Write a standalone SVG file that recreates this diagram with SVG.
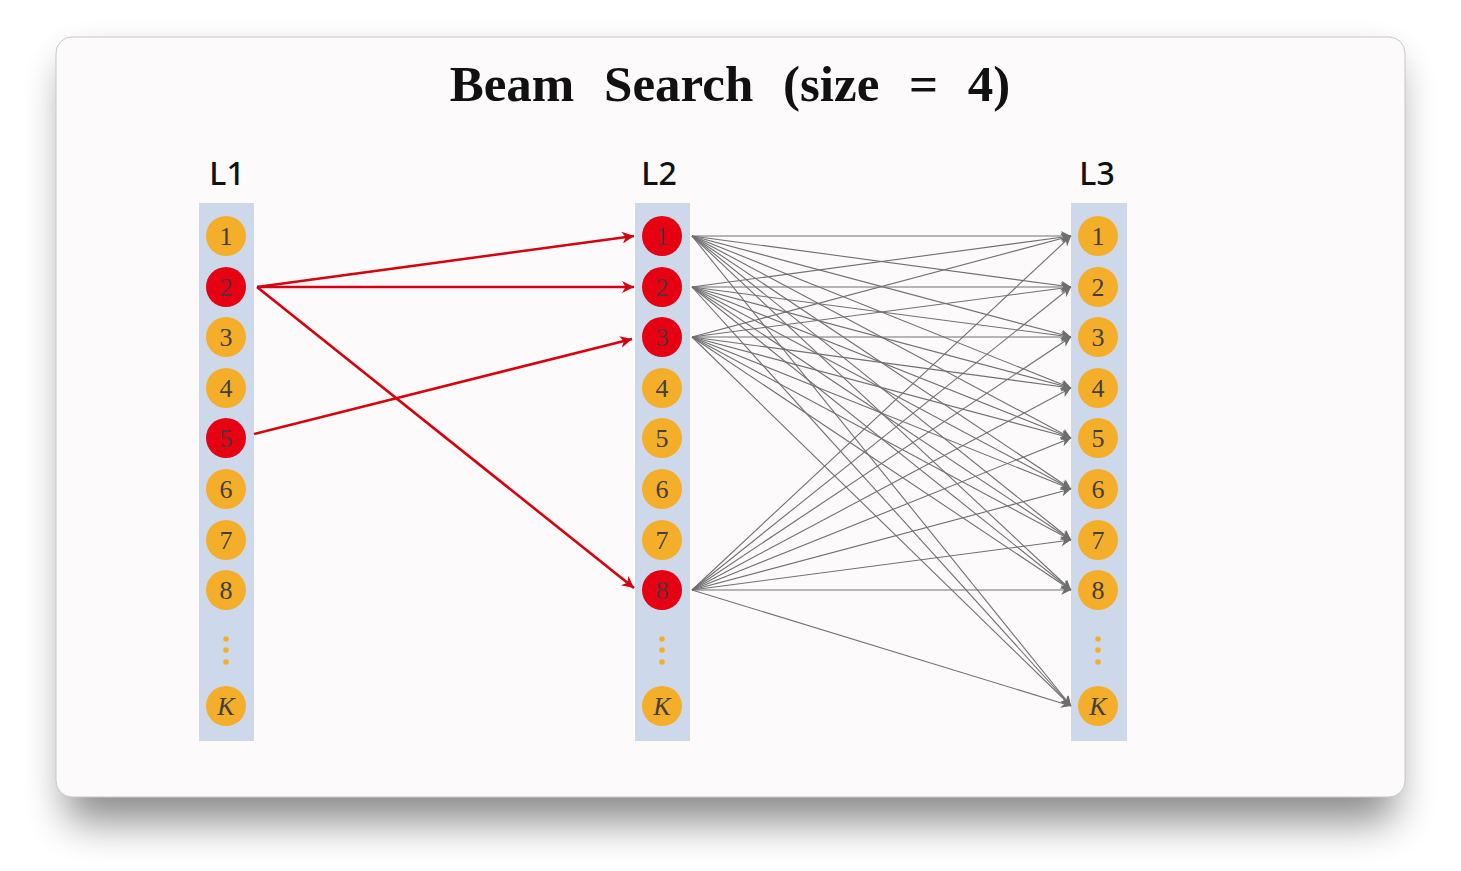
<svg xmlns="http://www.w3.org/2000/svg" width="1461" height="871" viewBox="0 0 1461 871">
<defs>
<filter id="sh" x="-10%" y="-10%" width="120%" height="135%">
<feGaussianBlur stdDeviation="20"/>
</filter>
<marker id="ag" viewBox="0 0 10 10" refX="10" refY="5" markerWidth="10" markerHeight="10" markerUnits="userSpaceOnUse" orient="auto">
<path d="M0,0 L10,5 L0,10 L3,5 Z" fill="#6e6e6e"/>
</marker>
<marker id="ar" viewBox="0 0 10 10" refX="10" refY="5" markerWidth="12" markerHeight="12" markerUnits="userSpaceOnUse" orient="auto">
<path d="M0,0 L10,5 L0,10 L3,5 Z" fill="#d7000f"/>
</marker>
</defs>
<style>
.col{fill:#cdd8ea}
.o{fill:#f5ae2a}
.r{fill:#e60012}
.n{font-family:"Liberation Serif",serif;font-size:26px;fill:#404040;text-anchor:middle}
.nr{fill:#5a2e3a}
.lab{font-family:"Noto Sans","Open Sans",sans-serif;font-size:32px;font-weight:500;fill:#111;text-anchor:middle}
.g{stroke:#707070;stroke-width:1.1;fill:none;marker-end:url(#ag)}
.re{stroke:#d7000f;stroke-width:2.6;fill:none;marker-end:url(#ar)}
.dot{fill:#f5ae2a}
</style>
<rect width="1461" height="871" fill="#ffffff"/>
<rect x="66" y="62" width="1329" height="760" rx="16" fill="#000" opacity="0.45" filter="url(#sh)"/>
<rect x="56" y="37" width="1349" height="760" rx="16" fill="#fcfafb" stroke="#c8c8c8" stroke-width="1"/>
<text x="730" y="101" font-family="Liberation Serif, serif" font-weight="bold" font-size="51" text-anchor="middle" fill="#111" word-spacing="17">Beam Search (size = 4)</text>
<g id="labels">
<text class="lab" x="227" y="185">L1</text>
<text class="lab" x="659" y="185">L2</text>
<text class="lab" x="1097" y="185">L3</text>
</g>
<g id="col1">
<rect class="col" x="199" y="203" width="55" height="538"/>
<g id="l1n1"><circle class="o" cx="226" cy="236" r="20"/><text class="n" x="226" y="245">1</text></g>
<g id="l1n2"><circle class="r" cx="226" cy="287" r="20"/><text class="n nr" x="226" y="296">2</text></g>
<g id="l1n3"><circle class="o" cx="226" cy="337" r="20"/><text class="n" x="226" y="346">3</text></g>
<g id="l1n4"><circle class="o" cx="226" cy="388" r="20"/><text class="n" x="226" y="397">4</text></g>
<g id="l1n5"><circle class="r" cx="226" cy="438" r="20"/><text class="n nr" x="226" y="447">5</text></g>
<g id="l1n6"><circle class="o" cx="226" cy="489" r="20"/><text class="n" x="226" y="498">6</text></g>
<g id="l1n7"><circle class="o" cx="226" cy="540" r="20"/><text class="n" x="226" y="549">7</text></g>
<g id="l1n8"><circle class="o" cx="226" cy="590" r="20"/><text class="n" x="226" y="599">8</text></g>
<circle class="dot" cx="226" cy="639" r="2.8"/><circle class="dot" cx="226" cy="650" r="2.8"/><circle class="dot" cx="226" cy="662" r="2.8"/>
<g id="l1nK"><circle class="o" cx="226" cy="706" r="20"/><text class="n" x="226" y="715" font-style="italic">K</text></g>
</g>
<g id="col2">
<rect class="col" x="635" y="203" width="55" height="538"/>
<g id="l2n1"><circle class="r" cx="662" cy="236" r="20"/><text class="n nr" x="662" y="245">1</text></g>
<g id="l2n2"><circle class="r" cx="662" cy="287" r="20"/><text class="n nr" x="662" y="296">2</text></g>
<g id="l2n3"><circle class="r" cx="662" cy="337" r="20"/><text class="n nr" x="662" y="346">3</text></g>
<g id="l2n4"><circle class="o" cx="662" cy="388" r="20"/><text class="n" x="662" y="397">4</text></g>
<g id="l2n5"><circle class="o" cx="662" cy="438" r="20"/><text class="n" x="662" y="447">5</text></g>
<g id="l2n6"><circle class="o" cx="662" cy="489" r="20"/><text class="n" x="662" y="498">6</text></g>
<g id="l2n7"><circle class="o" cx="662" cy="540" r="20"/><text class="n" x="662" y="549">7</text></g>
<g id="l2n8"><circle class="r" cx="662" cy="590" r="20"/><text class="n nr" x="662" y="599">8</text></g>
<circle class="dot" cx="662" cy="639" r="2.8"/><circle class="dot" cx="662" cy="650" r="2.8"/><circle class="dot" cx="662" cy="662" r="2.8"/>
<g id="l2nK"><circle class="o" cx="662" cy="706" r="20"/><text class="n" x="662" y="715" font-style="italic">K</text></g>
</g>
<g id="col3">
<rect class="col" x="1071" y="203" width="56" height="538"/>
<g id="l3n1"><circle class="o" cx="1098" cy="236" r="20"/><text class="n" x="1098" y="245">1</text></g>
<g id="l3n2"><circle class="o" cx="1098" cy="287" r="20"/><text class="n" x="1098" y="296">2</text></g>
<g id="l3n3"><circle class="o" cx="1098" cy="337" r="20"/><text class="n" x="1098" y="346">3</text></g>
<g id="l3n4"><circle class="o" cx="1098" cy="388" r="20"/><text class="n" x="1098" y="397">4</text></g>
<g id="l3n5"><circle class="o" cx="1098" cy="438" r="20"/><text class="n" x="1098" y="447">5</text></g>
<g id="l3n6"><circle class="o" cx="1098" cy="489" r="20"/><text class="n" x="1098" y="498">6</text></g>
<g id="l3n7"><circle class="o" cx="1098" cy="540" r="20"/><text class="n" x="1098" y="549">7</text></g>
<g id="l3n8"><circle class="o" cx="1098" cy="590" r="20"/><text class="n" x="1098" y="599">8</text></g>
<circle class="dot" cx="1098" cy="639" r="2.8"/><circle class="dot" cx="1098" cy="650" r="2.8"/><circle class="dot" cx="1098" cy="662" r="2.8"/>
<g id="l3nK"><circle class="o" cx="1098" cy="706" r="20"/><text class="n" x="1098" y="715" font-style="italic">K</text></g>
</g>
<g id="connectors">
<line class="re" x1="257" y1="287" x2="634" y2="236"/>
<line class="re" x1="257" y1="287" x2="634" y2="287"/>
<line class="re" x1="257" y1="287" x2="634" y2="588"/>
<line class="re" x1="254" y1="434" x2="632" y2="339"/>
<line class="g" x1="692" y1="236" x2="1071" y2="236"/>
<line class="g" x1="692" y1="236" x2="1071" y2="287"/>
<line class="g" x1="692" y1="236" x2="1071" y2="337"/>
<line class="g" x1="692" y1="236" x2="1071" y2="388"/>
<line class="g" x1="692" y1="236" x2="1071" y2="438"/>
<line class="g" x1="692" y1="236" x2="1071" y2="489"/>
<line class="g" x1="692" y1="236" x2="1071" y2="540"/>
<line class="g" x1="692" y1="236" x2="1071" y2="590"/>
<line class="g" x1="692" y1="236" x2="1071" y2="706"/>
<line class="g" x1="692" y1="287" x2="1071" y2="236"/>
<line class="g" x1="692" y1="287" x2="1071" y2="287"/>
<line class="g" x1="692" y1="287" x2="1071" y2="337"/>
<line class="g" x1="692" y1="287" x2="1071" y2="388"/>
<line class="g" x1="692" y1="287" x2="1071" y2="438"/>
<line class="g" x1="692" y1="287" x2="1071" y2="489"/>
<line class="g" x1="692" y1="287" x2="1071" y2="540"/>
<line class="g" x1="692" y1="287" x2="1071" y2="590"/>
<line class="g" x1="692" y1="287" x2="1071" y2="706"/>
<line class="g" x1="692" y1="337" x2="1071" y2="236"/>
<line class="g" x1="692" y1="337" x2="1071" y2="287"/>
<line class="g" x1="692" y1="337" x2="1071" y2="337"/>
<line class="g" x1="692" y1="337" x2="1071" y2="388"/>
<line class="g" x1="692" y1="337" x2="1071" y2="438"/>
<line class="g" x1="692" y1="337" x2="1071" y2="489"/>
<line class="g" x1="692" y1="337" x2="1071" y2="540"/>
<line class="g" x1="692" y1="337" x2="1071" y2="590"/>
<line class="g" x1="692" y1="337" x2="1071" y2="706"/>
<line class="g" x1="692" y1="590" x2="1071" y2="236"/>
<line class="g" x1="692" y1="590" x2="1071" y2="287"/>
<line class="g" x1="692" y1="590" x2="1071" y2="337"/>
<line class="g" x1="692" y1="590" x2="1071" y2="388"/>
<line class="g" x1="692" y1="590" x2="1071" y2="438"/>
<line class="g" x1="692" y1="590" x2="1071" y2="489"/>
<line class="g" x1="692" y1="590" x2="1071" y2="540"/>
<line class="g" x1="692" y1="590" x2="1071" y2="590"/>
<line class="g" x1="692" y1="590" x2="1071" y2="706"/>
</g>
</svg>
